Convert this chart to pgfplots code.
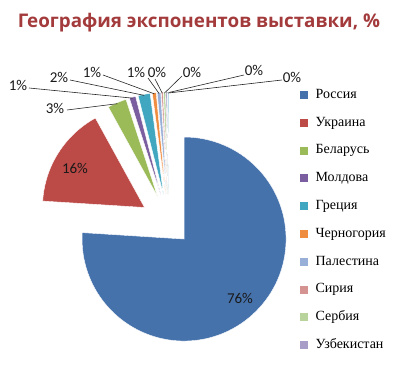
\documentclass[border=0pt]{standalone}
\usepackage{fontspec}
\usepackage{pgfplots}
\usepackage{pgfplotstable}
\pgfplotsset{compat=1.18}
\setmainfont{Liberation Serif}
\newfontfamily\titlefont{Open Sans}
\newfontfamily\labelfont{Carlito}
\definecolor{titlered}{HTML}{A33A3B}
\definecolor{pie0}{HTML}{4672AC}
\definecolor{pie1}{HTML}{BC4A47}
\definecolor{pie2}{HTML}{9BBB59}
\definecolor{pie3}{HTML}{7B5E9F}
\definecolor{pie4}{HTML}{41A7C0}
\definecolor{pie5}{HTML}{EE8C40}
\definecolor{pie6}{HTML}{98B0D8}
\definecolor{pie7}{HTML}{D49391}
\definecolor{pie8}{HTML}{B9D39C}
\definecolor{pie9}{HTML}{A89DC7}
\definecolor{pie10}{HTML}{9CCEDF}
% value (%), explode distance, label x/y, leader start x/y (pixel coords, y down), leader flag
\pgfplotstableread{
value explode lx ly sx sy lead
76.0  22 240 298   0   0 0
16.0  29  75 168   0   0 0
3.0   29  55 108  67 110 1
1.0   29  18  85  29  88 1
1.9   29  59  77  70  80 1
0.6   29  92  72 103  75 1
0.55  29 136  72 148  78 1
0.25  29 157  72 155  79 1
0.3   29 192  72 182  76 1
0.2   29 254  70 244  75 1
0.2   29 292  77 282  80 1
}\piedata
\begin{document}
\begin{tikzpicture}
\begin{axis}[
  scale only axis, width=399pt, height=373pt,
  xmin=0, xmax=399, ymin=0, ymax=373,
  hide axis, clip=false,
  legend image code/.code={\fill[#1] (0pt,-3.5pt) rectangle (7pt,3.5pt);},
  legend cell align=left,
  legend style={at={(axis cs:299.5,285)}, anchor=north west, draw=none, fill=none,
    inner sep=0pt, row sep=14.8pt, font=\fontsize{14}{16}\selectfont,
    nodes={inner sep=0pt, text height=10pt, text depth=3pt},
    /tikz/every odd column/.append style={column sep=8.5pt}},
]
\node[font=\titlefont\bfseries\fontsize{18.8}{21}\selectfont, text=titlered] at (axis cs:199,350) {География экспонентов выставки, \%};
\pgfplotstablegetrowsof{\piedata}
\pgfmathtruncatemacro\N{\pgfplotsretval-1}
\def\cum{0}
\pgfplotsforeachungrouped \i in {0,...,\N}{%
  \pgfplotstablegetelem{\i}{value}\of\piedata \let\v\pgfplotsretval
  \pgfplotstablegetelem{\i}{explode}\of\piedata \let\ex\pgfplotsretval
  \pgfplotstablegetelem{\i}{lx}\of\piedata \let\lx\pgfplotsretval
  \pgfplotstablegetelem{\i}{ly}\of\piedata \pgfmathsetmacro\lyy{373-\pgfplotsretval}
  \pgfplotstablegetelem{\i}{sx}\of\piedata \let\sx\pgfplotsretval
  \pgfplotstablegetelem{\i}{sy}\of\piedata \pgfmathsetmacro\syy{373-\pgfplotsretval}
  \pgfplotstablegetelem{\i}{lead}\of\piedata \let\lead\pgfplotsretval
  \pgfmathsetmacro\a{90-3.6*\cum}
  \pgfmathsetmacro\b{90-3.6*(\cum+\v)}
  \pgfmathsetmacro\m{(\a+\b)/2}
  \pgfmathsetmacro\cx{169+\ex*cos(\m)}
  \pgfmathsetmacro\cy{150+\ex*sin(\m)}
  \pgfmathsetmacro\ox{\cx+101*cos(\m)}
  \pgfmathsetmacro\oy{\cy+101*sin(\m)}
  \pgfmathtruncatemacro\p{round(\v)}
  \edef\temp{\noexpand\fill[pie\i, draw=white, line width=0.4pt] (axis cs:\cx,\cy) -- ++(\a:102pt) arc[start angle=\a, end angle=\b, radius=102pt] -- cycle;}%
  \temp
  \ifnum\lead=1
    \edef\temp{\noexpand\draw[black!85, line width=0.6pt] (axis cs:\sx,\syy) -- (axis cs:\ox,\oy);}%
    \temp
  \fi
  \edef\temp{\noexpand\node[font=\noexpand\labelfont\noexpand\fontsize{15}{17}\noexpand\selectfont, text=black!90] at (axis cs:\lx,\lyy) {\p\noexpand\%};}%
  \temp
  \pgfmathsetmacro\cum{\cum+\v}%
}
\addlegendimage{pie0}
\addlegendimage{pie1}
\addlegendimage{pie2}
\addlegendimage{pie3}
\addlegendimage{pie4}
\addlegendimage{pie5}
\addlegendimage{pie6}
\addlegendimage{pie7}
\addlegendimage{pie8}
\addlegendimage{pie9}
\legend{Россия, Украина, Беларусь, Молдова, Греция, Черногория, Палестина, Сирия, Сербия, Узбекистан}
\end{axis}
\useasboundingbox (current axis.south west) rectangle (current axis.north east);
\end{tikzpicture}
\end{document}
